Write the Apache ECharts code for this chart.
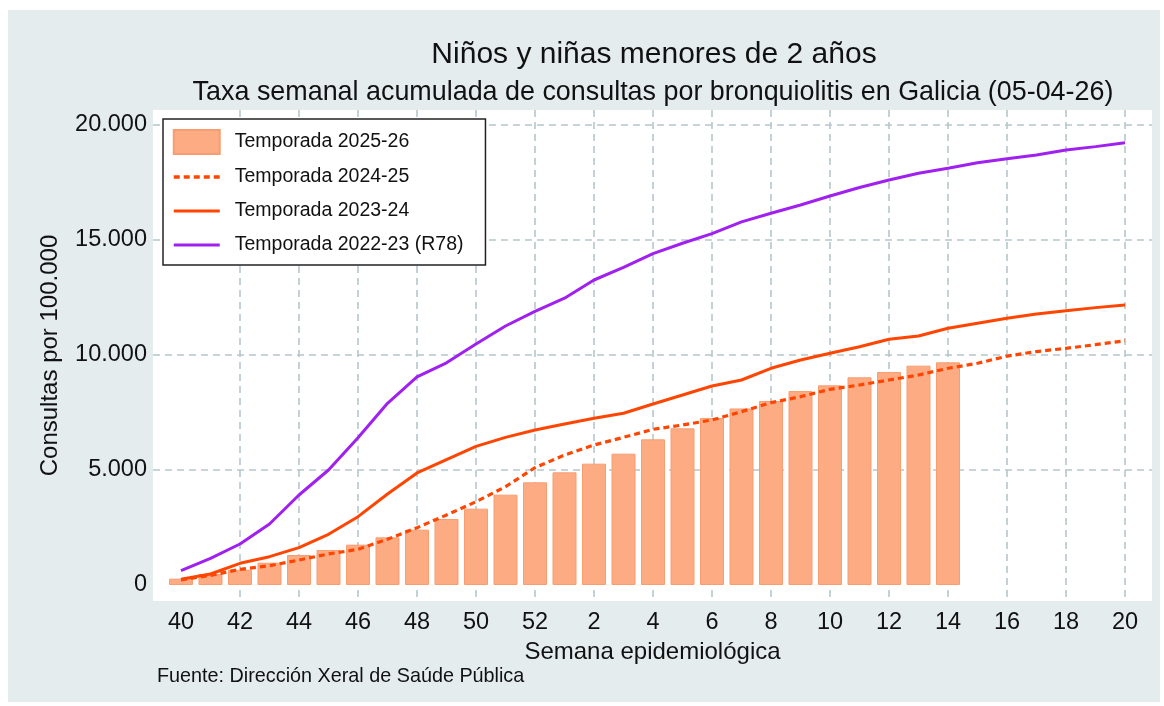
<!DOCTYPE html>
<html>
<head>
<meta charset="utf-8">
<script src="https://cdn.jsdelivr.net/npm/echarts@6/dist/echarts.min.js"></script>
<style>
  html, body { margin: 0; padding: 0; background: #fff; }
  #chart { width: 1164px; height: 706px; }
</style>
</head>
<body>
<div id="chart"></div>
<script>
// epidemiological weeks, season runs from week 40 to week 20
var weeks = [40, 41, 42, 43, 44, 45, 46, 47, 48, 49, 50, 51, 52,
  1, 2, 3, 4, 5, 6, 7, 8, 9, 10, 11, 12, 13, 14, 15, 16, 17, 18, 19, 20];

var season2526 = [275, 478, 665, 970, 1304, 1522, 1754, 2072, 2406, 2870, 3318, 3927, 4464,
  4899, 5275, 5710, 6334, 6812, 7261, 7675, 8000, 8435, 8682, 9030, 9261, 9536, 9682];

var season2425 = [220, 420, 680, 840, 1087, 1350, 1550, 1990, 2490, 3043, 3620, 4275, 5100,
  5652, 6087, 6420, 6768, 6957, 7174, 7536, 7927, 8188, 8508, 8696, 8913, 9130, 9422,
  9640, 9950, 10150, 10290, 10450, 10622];

var season2324 = [248, 478, 942, 1232, 1623, 2203, 2971, 3957, 4870, 5450, 6030, 6420, 6739,
  7000, 7248, 7465, 7870, 8261, 8652, 8913, 9422, 9783, 10074, 10362, 10683, 10826, 11161,
  11378, 11595, 11780, 11927, 12060, 12174];

var season2223 = [623, 1160, 1783, 2652, 3913, 5000, 6400, 7900, 9050, 9660, 10480, 11260, 11900,
  12470, 13261, 13810, 14410, 14860, 15280, 15790, 16165, 16522, 16913, 17280, 17609, 17905, 18120,
  18355, 18530, 18700, 18913, 19060, 19225];

var yTicks = [0, 5000, 10000, 15000, 20000];
var xTickIdx = [0, 2, 4, 6, 8, 10, 12, 14, 16, 18, 20, 22, 24, 26, 28, 30, 32];

var FONT = "'Liberation Sans', Arial, sans-serif";

function pairs(vals) {
  return vals.map(function (v, i) { return [i, v]; });
}

function thousands(v) {
  return String(v).replace(/\B(?=(\d{3})+(?!\d))/g, ".");
}

var gridLine = { color: "#b5c7cb", width: 1.6, type: [7, 5] };
// hide the circle that line series put in the legend
var noSymbol = { opacity: 0 };

var option = {
  backgroundColor: "#ffffff",
  animation: false,
  textStyle: { fontFamily: FONT },
  graphic: [
    {
      type: "rect", z: -100, silent: true,
      shape: { x: 8, y: 10, width: 1152, height: 692 },
      style: { fill: "#e5ecee" }
    },
    {
      type: "text", x: 654, y: 55,
      style: { text: "Niños y niñas menores de 2 años", font: "30px " + FONT,
        fill: "#111", textAlign: "center", textVerticalAlign: "middle" }
    },
    {
      type: "text", x: 653, y: 93,
      style: { text: "Taxa semanal acumulada de consultas por bronquiolitis en Galicia (05-04-26)",
        font: "26.9px " + FONT, fill: "#111", textAlign: "center", textVerticalAlign: "middle" }
    },
    {
      type: "text", x: 157, y: 677,
      style: { text: "Fuente: Dirección Xeral de Saúde Pública", font: "19.8px " + FONT,
        fill: "#111", textAlign: "left", textVerticalAlign: "middle" }
    }
  ],
  grid: {
    left: 153, right: 12, top: 110, bottom: 105,
    show: true, backgroundColor: "#ffffff", borderWidth: 0
  },
  legend: {
    orient: "vertical",
    left: 163, top: 119,
    padding: [10, 22, 8, 9],
    itemGap: 10,
    itemWidth: 46, itemHeight: 24,
    backgroundColor: "#ffffff",
    borderColor: "#222",
    borderWidth: 1.5,
    borderRadius: 0,
    textStyle: { fontSize: 19.5, lineHeight: 24, color: "#111", padding: [0, 0, 0, 10] },
    data: [
      { name: "Temporada 2025-26", icon: "rect" },
      { name: "Temporada 2024-25", itemStyle: noSymbol, lineStyle: { width: 3.5 } },
      { name: "Temporada 2023-24", itemStyle: noSymbol, lineStyle: { width: 3.2 } },
      { name: "Temporada 2022-23 (R78)", itemStyle: noSymbol, lineStyle: { width: 3.2 } }
    ]
  },
  xAxis: {
    type: "value",
    min: -0.949, max: 32.915,
    name: "Semana epidemiológica",
    nameLocation: "middle",
    nameGap: 29,
    nameTextStyle: { fontSize: 24, color: "#111" },
    axisLine: { show: false },
    axisTick: { show: false, customValues: xTickIdx.slice(1) },
    axisLabel: {
      customValues: xTickIdx,
      margin: 10,
      fontSize: 23.5, color: "#111",
      formatter: function (v) { return weeks[Math.round(v)]; }
    },
    splitLine: { show: true, lineStyle: gridLine }
  },
  yAxis: {
    type: "value",
    min: -695.65, max: 20652.2,
    name: "Consultas por 100.000",
    nameLocation: "middle",
    nameGap: 91,
    nameTextStyle: { fontSize: 24, color: "#111" },
    axisLine: { show: false },
    axisTick: { show: false, customValues: yTicks.slice(1) },
    axisLabel: {
      customValues: yTicks,
      margin: 6,
      fontSize: 23.5, color: "#111",
      formatter: thousands
    },
    splitLine: { show: true, lineStyle: gridLine }
  },
  series: [
    {
      name: "Temporada 2025-26",
      type: "bar",
      data: pairs(season2526),
      barWidth: 24,
      z: 2,
      itemStyle: { color: "#fdab83", borderColor: "#f89d72", borderWidth: 1 }
    },
    {
      name: "Temporada 2024-25",
      type: "line",
      data: pairs(season2425),
      symbol: "none",
      z: 5,
      lineStyle: { color: "#ff4500", width: 3.2, type: [6, 4] },
      itemStyle: { color: "#ff4500" }
    },
    {
      name: "Temporada 2023-24",
      type: "line",
      data: pairs(season2324),
      symbol: "none",
      z: 4,
      lineStyle: { color: "#ff4500", width: 3 },
      itemStyle: { color: "#ff4500" }
    },
    {
      name: "Temporada 2022-23 (R78)",
      type: "line",
      data: pairs(season2223),
      symbol: "none",
      z: 3,
      lineStyle: { color: "#a020f0", width: 3 },
      itemStyle: { color: "#a020f0" }
    }
  ]
};

var myChart = echarts.init(document.getElementById("chart"));
myChart.setOption(option);
</script>
</body>
</html>
